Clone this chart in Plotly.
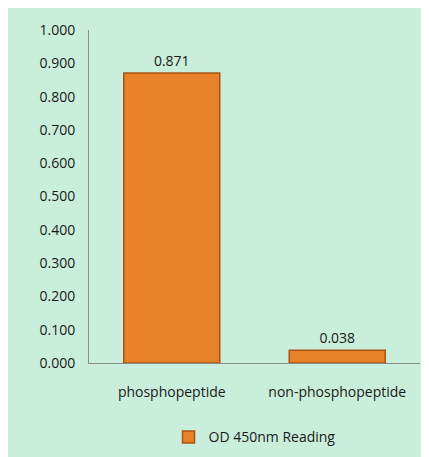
import plotly.graph_objects as go

categories = ["phosphopeptide", "non-phosphopeptide"]
values = [0.871, 0.038]
labels = ["0.871", "0.038"]
series_name = "OD 450nm Reading"

fig = go.Figure(go.Bar(
    x=categories, y=values, name=series_name, text=labels, textposition="outside",
    textfont=dict(size=14, color="#1a1a1a"),
    marker=dict(color="#e8822a", line=dict(color="#a95410", width=1.5)),
    width=0.58, cliponaxis=False, showlegend=True))

fig.update_layout(
    width=429, height=457,
    paper_bgcolor="#c9eedb", plot_bgcolor="#c9eedb",
    margin=dict(l=81, r=17, t=20, b=97),
    font=dict(family="Open Sans, DejaVu Sans", size=14, color="#1a1a1a"),
    bargap=0.42,
    showlegend=True,
    legend=dict(orientation="h", x=0.5, xanchor="center", y=-0.175, yanchor="top",
                font=dict(size=14), bgcolor="rgba(0,0,0,0)"),
    xaxis=dict(showline=True, linecolor="#8a8a8a", linewidth=1, ticks="",
               ticklabelstandoff=16, tickfont=dict(size=14)),
    yaxis=dict(range=[0, 1.0], dtick=0.1, tickformat=".3f", showgrid=False,
               showline=True, linecolor="#8a8a8a", linewidth=1, zeroline=False,
               ticks="", ticklabelstandoff=10, tickfont=dict(size=14)),
)
fig.write_html("out.html")
